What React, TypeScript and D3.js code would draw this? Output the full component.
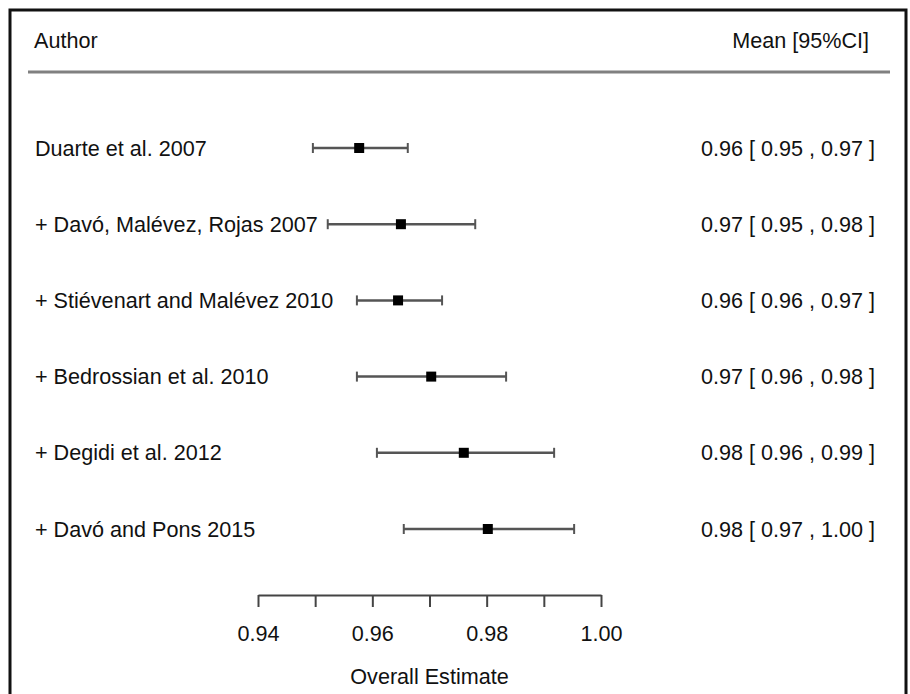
import React, { useRef, useEffect } from "react";
import { select, scaleLinear, scalePoint, axisBottom } from "d3";

const authors = [
  "Duarte et al. 2007",
  "+ Davó, Malévez, Rojas 2007",
  "+ Stiévenart and Malévez 2010",
  "+ Bedrossian et al. 2010",
  "+ Degidi et al. 2012",
  "+ Davó and Pons 2015",
];
const means = [0.9577, 0.965, 0.9645, 0.9703, 0.976, 0.9802];
const lower = [0.9496, 0.9522, 0.9573, 0.9573, 0.9608, 0.9655];
const upper = [0.9662, 0.978, 0.9722, 0.9834, 0.9918, 0.9953];
const ciLabels = [
  "0.96 [ 0.95 , 0.97 ]",
  "0.97 [ 0.95 , 0.98 ]",
  "0.96 [ 0.96 , 0.97 ]",
  "0.97 [ 0.96 , 0.98 ]",
  "0.98 [ 0.96 , 0.99 ]",
  "0.98 [ 0.97 , 1.00 ]",
];
const tickValues = [0.94, 0.95, 0.96, 0.97, 0.98, 0.99, 1.0];
const tickLabels = ["0.94", "", "0.96", "", "0.98", "", "1.00"];

const FONT = "'Liberation Sans', Arial, sans-serif";
const FS = 21.6;

function App() {
  const svgRef = useRef<SVGSVGElement>(null);

  useEffect(() => {
    const svg = select(svgRef.current);
    svg.selectAll("*").remove();

    const height = 694;

    // scales
    const xScale = scaleLinear().domain([0.94, 1.0]).range([258, 601]);
    const yScale = scalePoint<string>().domain(authors).range([148, 529]);

    // frame
    svg
      .append("rect")
      .attr("x", 10)
      .attr("y", 10)
      .attr("width", 896)
      .attr("height", height + 20)
      .attr("fill", "white")
      .attr("stroke", "#111")
      .attr("stroke-width", 3);

    // header
    svg
      .append("text")
      .attr("x", 34)
      .attr("y", 40)
      .attr("dy", "0.35em")
      .attr("font-family", FONT)
      .attr("font-size", FS)
      .attr("fill", "#111")
      .text("Author");
    svg
      .append("text")
      .attr("x", 869)
      .attr("y", 40)
      .attr("dy", "0.35em")
      .attr("text-anchor", "end")
      .attr("font-family", FONT)
      .attr("font-size", FS)
      .attr("fill", "#111")
      .text("Mean [95%CI]");
    svg
      .append("line")
      .attr("x1", 28)
      .attr("x2", 890)
      .attr("y1", 72)
      .attr("y2", 72)
      .attr("stroke", "#808080")
      .attr("stroke-width", 3);

    // study labels
    svg
      .selectAll(".author")
      .data(authors)
      .join("text")
      .attr("class", "author")
      .attr("x", 35)
      .attr("y", (d) => yScale(d)!)
      .attr("dy", "0.35em")
      .attr("font-family", FONT)
      .attr("font-size", FS)
      .attr("fill", "#111")
      .text((d) => d);

    svg
      .selectAll(".ci-label")
      .data(ciLabels)
      .join("text")
      .attr("class", "ci-label")
      .attr("x", 875)
      .attr("y", (d, i) => yScale(authors[i])!)
      .attr("dy", "0.35em")
      .attr("text-anchor", "end")
      .attr("font-family", FONT)
      .attr("font-size", FS)
      .attr("fill", "#111")
      .text((d) => d);

    // whiskers
    const rows = authors.map((a, i) => ({ a, m: means[i], lo: lower[i], hi: upper[i] }));
    const g = svg.append("g");
    g.selectAll(".ci")
      .data(rows)
      .join("line")
      .attr("class", "ci")
      .attr("x1", (d) => xScale(d.lo))
      .attr("x2", (d) => xScale(d.hi))
      .attr("y1", (d) => yScale(d.a)!)
      .attr("y2", (d) => yScale(d.a)!)
      .attr("stroke", "#555")
      .attr("stroke-width", 2.5);
    ["lo", "hi"].forEach((k) => {
      g.selectAll(".cap-" + k)
        .data(rows)
        .join("line")
        .attr("class", "cap-" + k)
        .attr("x1", (d: any) => xScale(d[k]))
        .attr("x2", (d: any) => xScale(d[k]))
        .attr("y1", (d) => yScale(d.a)! - 5)
        .attr("y2", (d) => yScale(d.a)! + 5)
        .attr("stroke", "#555")
        .attr("stroke-width", 2);
    });
    g.selectAll(".pt")
      .data(rows)
      .join("rect")
      .attr("class", "pt")
      .attr("x", (d) => xScale(d.m) - 5)
      .attr("y", (d) => yScale(d.a)! - 5)
      .attr("width", 10)
      .attr("height", 10)
      .attr("fill", "#000");

    // x axis
    const xAxis = axisBottom(xScale)
      .tickValues(tickValues)
      .tickSize(12)
      .tickSizeOuter(0)
      .tickPadding(19)
      .tickFormat((d, i) => tickLabels[i]);
    const ax = svg.append("g").attr("transform", "translate(0,595)").call(xAxis);
    ax.select(".domain").attr("stroke", "#444").attr("stroke-width", 2);
    ax.selectAll(".tick line").attr("stroke", "#444").attr("stroke-width", 2);
    ax.selectAll(".tick text")
      .attr("font-family", FONT)
      .attr("font-size", FS)
      .attr("fill", "#111");

    svg
      .append("text")
      .attr("x", (xScale(0.94) + xScale(1.0)) / 2)
      .attr("y", 676)
      .attr("dy", "0.35em")
      .attr("text-anchor", "middle")
      .attr("font-family", FONT)
      .attr("font-size", FS)
      .attr("fill", "#111")
      .text("Overall Estimate");
  }, []);

  return (
    <svg
      ref={svgRef}
      width={910}
      height={694}
      style={{ position: "absolute", left: 0, top: 0, display: "block", background: "white" }}
    />
  );
}

export default App;
